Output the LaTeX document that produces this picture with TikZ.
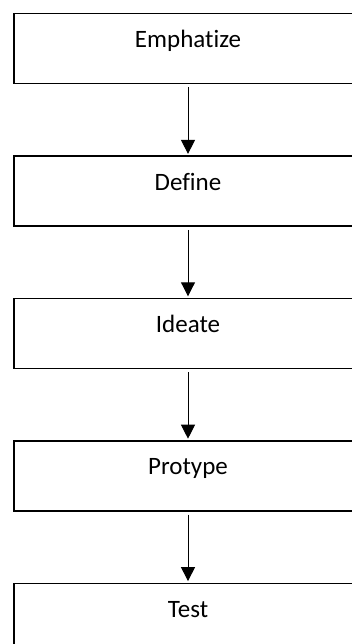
\documentclass[tikz,border=0pt]{standalone}
\usepackage{fontspec}
\setmainfont{Carlito}[Ligatures=NoCommon]
\usetikzlibrary{positioning,arrows.meta}

\begin{document}
\begin{tikzpicture}[x=1pt, y=1pt,
    stage/.style={draw, rectangle, line width=1.4pt, minimum width=348pt, inner xsep=0pt, inner ysep=0pt,
        text height=34pt, text depth=36pt, font=\fontsize{25}{29}\selectfont},
    flow/.style={-{Triangle[width=14pt, length=14pt]}, line width=1pt, shorten <=3pt, shorten >=1.5pt},
    node distance=71pt]
        % Etapas do design thinking
        \clip (0, 0) rectangle (352, -644);
        \node[stage, anchor=north] (empathize) at (188, -13) {Emphatize};
        \node[stage, below=of empathize] (define) {Define};
        \node[stage, below=of define] (ideate) {Ideate};
        \node[stage, below=of ideate] (prototype) {Protype};
        \node[stage, below=of prototype] (test) {Test};

        \draw[flow] (empathize) -- (define);
        \draw[flow] (define) -- (ideate);
        \draw[flow] (ideate) -- (prototype);
        \draw[flow] (prototype) -- (test);
    \end{tikzpicture}
\end{document}
